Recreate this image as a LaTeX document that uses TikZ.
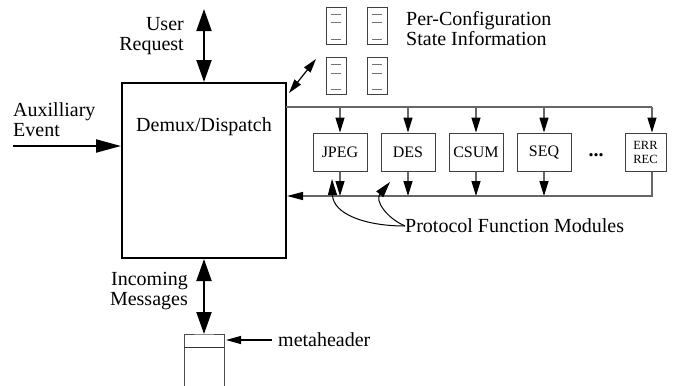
\documentclass[tikz,border=0pt]{standalone}
\usepackage{fontspec}
\setmainfont{Liberation Serif}
\usetikzlibrary{arrows.meta,calc}
\begin{document}
\begin{tikzpicture}[x=1pt,y=-1pt,
  lbl/.style={font=\fontsize{20}{20}\selectfont, inner sep=0pt},
  bigarrow/.style={line width=2pt, {Triangle[length=22pt,width=15pt]}-{Triangle[length=22pt,width=15pt]}},
  auxarrow/.style={line width=2pt, -{Triangle[length=25pt,width=13pt]}},
  busline/.style={line width=1.3pt, draw=black!60},
  busarrow/.style={busline, -{Triangle[length=15pt,width=9pt,color=black]}},
  thinarrow/.style={line width=1.2pt, -{Triangle[length=15pt,width=8pt]}},
  dblthin/.style={line width=1.2pt, {Triangle[length=14pt,width=8pt]}-{Triangle[length=14pt,width=8pt]}},
  modbox/.style={draw=black!75, line width=1pt, minimum width=54pt, minimum height=38pt, inner sep=0pt, font=\fontsize{16}{16}\selectfont},
  statebox/.style={draw=black!75, line width=1pt, minimum width=20pt, minimum height=37pt, inner sep=0pt},
  formline/.style={draw=black!55, line width=1pt}
]
\useasboundingbox (0,0) rectangle (673,386);

% main dispatch box
\node[draw, line width=2pt, minimum width=164pt, minimum height=175pt, inner sep=0pt] (main) at (204,170.5) {};
\node[lbl] (dd) at (204,127) {Demux/Dispatch};

% user request
\coordinate (ureq) at (204,9);
\draw[bigarrow] (ureq) -- (ureq |- main.north);
\node[lbl, align=right, anchor=east] (ureqt) at (184,36) {User\\Request};

% auxilliary event
\coordinate (aux) at (13,146);
\node[lbl, align=left, anchor=west] (auxt) at (13,120) {Auxilliary\\Event};
\draw[auxarrow] (aux) -- (aux -| main.west);

% incoming messages and buffer
\coordinate (buftop) at (204,334);
\coordinate (bufbl) at (184,386);
\coordinate (bufbr) at (224,386);
\draw[bigarrow] (main.south) -- (buftop);
\node[lbl, align=right, anchor=east] (inct) at (188,291) {Incoming\\Messages};
\draw[draw=black!70, line width=1pt] (bufbl) |- (buftop) -| (bufbr);
\coordinate (bufdl) at (184,347);
\coordinate (bufdr) at (224,347);
\draw[draw=black!80, line width=1pt] (bufdl) -- (bufdr);
\coordinate (mh) at (272,340);
\coordinate (mhtip) at (226,340);
\draw[thinarrow] (mh) -- (mhtip);
\node[lbl, anchor=west] (mht) at (278,340) {metaheader};

% per-configuration state information
\node[statebox] (s1) at (336,25.5) {};
\node[statebox] (s2) at (377,25.5) {};
\node[statebox] (s3) at (336,76) {};
\node[statebox] (s4) at (377,76) {};
\foreach \b in {s1,s2,s3,s4}{
  \draw[formline] ($(\b.center)+(-5,-11.5)$) -- ++(10,0);
  \draw[formline] ($(\b.center)+(-5,-3)$) -- ++(10,0);
  \draw[formline] ($(\b.center)+(-5,13.5)$) -- ++(10,0);
}
\node[lbl, align=left, anchor=west] (pct) at (406,29) {Per-Configuration\\State Information};
\coordinate (d1) at (289,93);
\coordinate (d2) at (316,59);
\draw[dblthin] (d1) -- (d2);

% modules
\node[modbox] (m1) at (340,152) {JPEG};
\node[modbox] (m2) at (408,152) {DES};
\node[modbox] (m3) at (476,152) {CSUM};
\node[modbox] (m4) at (544,152) {SEQ};
\node[modbox, minimum width=41pt, align=center, font=\fontsize{12.5}{14}\selectfont] (m5) at (645.5,152) {ERR\\REC};
\node[lbl] (dots) at (596,155) {\textbf{...}};

% top bus
\coordinate (busL) at (286,107);
\coordinate (busR) at (652,107);
\draw[busline] (busL) -- (busR);
\foreach \m in {m1,m2,m3,m4}{
  \draw[busarrow] (\m.north |- busL) -- (\m.north);
}
\draw[busarrow] (busR) -- (busR |- m5.north);

% bottom bus
\coordinate (botR) at (652,196);
\foreach \m in {m1,m2,m3,m4}{
  \draw[busarrow] (\m.south) -- (\m.south |- botR);
}
\draw[busline, -{Triangle[length=16pt,width=8pt,color=black]}] (botR |- m5.south) -- (botR) -- (botR -| main.east);

% protocol function modules
\node[lbl, anchor=west] (pfm) at (405,226) {Protocol Function Modules};
\draw[line width=1pt, -{Triangle[length=16pt,width=9pt]}] (pfm.west) .. controls (365,226) and (333,214) .. (332,179);
\draw[line width=1pt, -{Triangle[length=16pt,width=9pt]}] (pfm.west) .. controls (385,217) and (375,200) .. (390,182);
\end{tikzpicture}
\end{document}
